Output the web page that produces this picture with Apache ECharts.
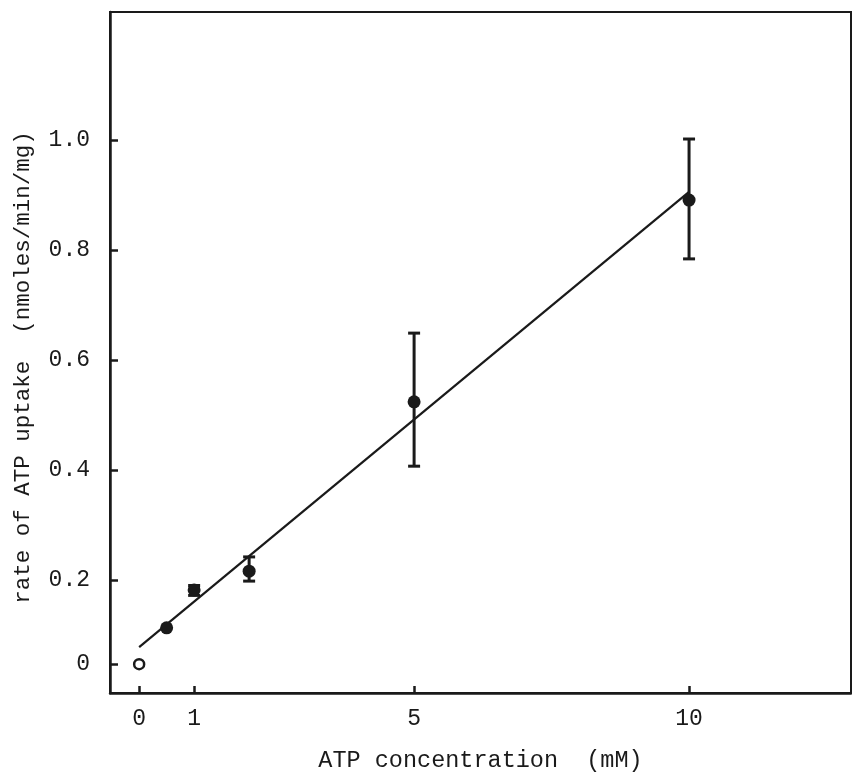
<!DOCTYPE html>
<html>
<head>
<meta charset="utf-8">
<script src="https://cdn.jsdelivr.net/npm/echarts@6/dist/echarts.min.js"></script>
<style>
html,body{margin:0;padding:0;background:#fff;}
#chart{width:852px;height:774px;}
</style>
</head>
<body>
<div id="chart"></div>
<script>
// ---- data ----
const xFilled = [0.5, 1, 2, 5, 10];
const yFilled = [0.113, 0.182, 0.216, 0.524, 0.891];
const errLow  = [null, 0.172, 0.198, 0.407, 0.784];
const errHigh = [null, 0.190, 0.242, 0.649, 1.002];
const xOpen = [0];
const yOpen = [0.047];
const fitX = [0, 10];
const fitY = [0.078, 0.906];
const xTickValues = [0, 1, 5, 10];
const xTickLabels = ['0', '1', '5', '10'];
const yTickValues = [0.047, 0.2, 0.4, 0.6, 0.8, 1.0];
const yTickLabels = ['0', '0.2', '0.4', '0.6', '0.8', '1.0'];
const xTitle = 'ATP concentration  (mM)';
const yTitle = 'rate of ATP uptake  (nmoles/min/mg)';

const FONT = "'Liberation Mono', 'DejaVu Sans Mono', monospace";
const INK = '#1a1a1a';

function labelFor(values, labels) {
  return function (v) {
    let best = 0, bd = Infinity;
    values.forEach((t, i) => { const d = Math.abs(t - v); if (d < bd) { bd = d; best = i; } });
    return labels[best];
  };
}

const filledData = xFilled.map((x, i) => [x, yFilled[i]]);
const openData = xOpen.map((x, i) => [x, yOpen[i]]);
const fitData = fitX.map((x, i) => [x, fitY[i]]);
const errData = [];
xFilled.forEach((x, i) => { if (errLow[i] != null) errData.push([x, errLow[i], errHigh[i]]); });

const chart = echarts.init(document.getElementById('chart'), null, {renderer: 'canvas'});
chart.setOption({
  animation: false,
  backgroundColor: '#fff',
  grid: {left: 110, top: 12, right: 1, bottom: 81, show: true, borderColor: INK, borderWidth: 2,
         containLabel: false, outerBoundsMode: 'none'},
  xAxis: {
    type: 'value', min: -0.53, max: 12.945,
    name: xTitle, nameLocation: 'middle', nameGap: 56,
    nameTextStyle: {fontFamily: FONT, fontSize: 23.5, color: INK},
    axisLine: {show: true, onZero: false, lineStyle: {color: INK, width: 2.5}},
    axisTick: {show: true, inside: true, length: 7, customValues: xTickValues, lineStyle: {color: INK, width: 2.5}},
    axisLabel: {customValues: xTickValues, formatter: labelFor(xTickValues, xTickLabels), fontFamily: FONT, fontSize: 23, color: INK, margin: 14},
    splitLine: {show: false}
  },
  yAxis: {
    type: 'value', min: -0.0055, max: 1.233,
    name: yTitle, nameLocation: 'middle', nameGap: 75, nameRotate: 90,
    nameTextStyle: {fontFamily: FONT, fontSize: 22.5, color: INK, padding: [0, 30, 0, 0]},
    axisLine: {show: true, onZero: false, lineStyle: {color: INK, width: 2.5}},
    axisTick: {show: true, inside: true, length: 8, customValues: yTickValues, lineStyle: {color: INK, width: 2.5}},
    axisLabel: {customValues: yTickValues, formatter: labelFor(yTickValues, yTickLabels), fontFamily: FONT, fontSize: 23, color: INK, margin: 20},
    splitLine: {show: false}
  },
  series: [
    {
      type: 'line', data: fitData, symbol: 'none', z: 2,
      lineStyle: {color: INK, width: 2.2}
    },
    {
      type: 'custom', z: 3,
      data: errData,
      renderItem: function (params, api) {
        const x = api.value(0);
        const lo = api.coord([x, api.value(1)]);
        const hi = api.coord([x, api.value(2)]);
        const cap = 6;
        const st = {stroke: INK, lineWidth: 3};
        return {
          type: 'group',
          children: [
            {type: 'line', shape: {x1: lo[0], y1: lo[1], x2: hi[0], y2: hi[1]}, style: st},
            {type: 'line', shape: {x1: lo[0] - cap, y1: lo[1], x2: lo[0] + cap, y2: lo[1]}, style: st},
            {type: 'line', shape: {x1: hi[0] - cap, y1: hi[1], x2: hi[0] + cap, y2: hi[1]}, style: st}
          ]
        };
      }
    },
    {
      type: 'scatter', data: filledData, symbol: 'circle', symbolSize: 13, z: 4,
      itemStyle: {color: INK, opacity: 1}
    },
    {
      type: 'scatter', data: openData, symbol: 'circle', symbolSize: 10, z: 4,
      itemStyle: {color: '#fff', borderColor: INK, borderWidth: 2.5, opacity: 1}
    }
  ]
});
</script>
</body>
</html>
